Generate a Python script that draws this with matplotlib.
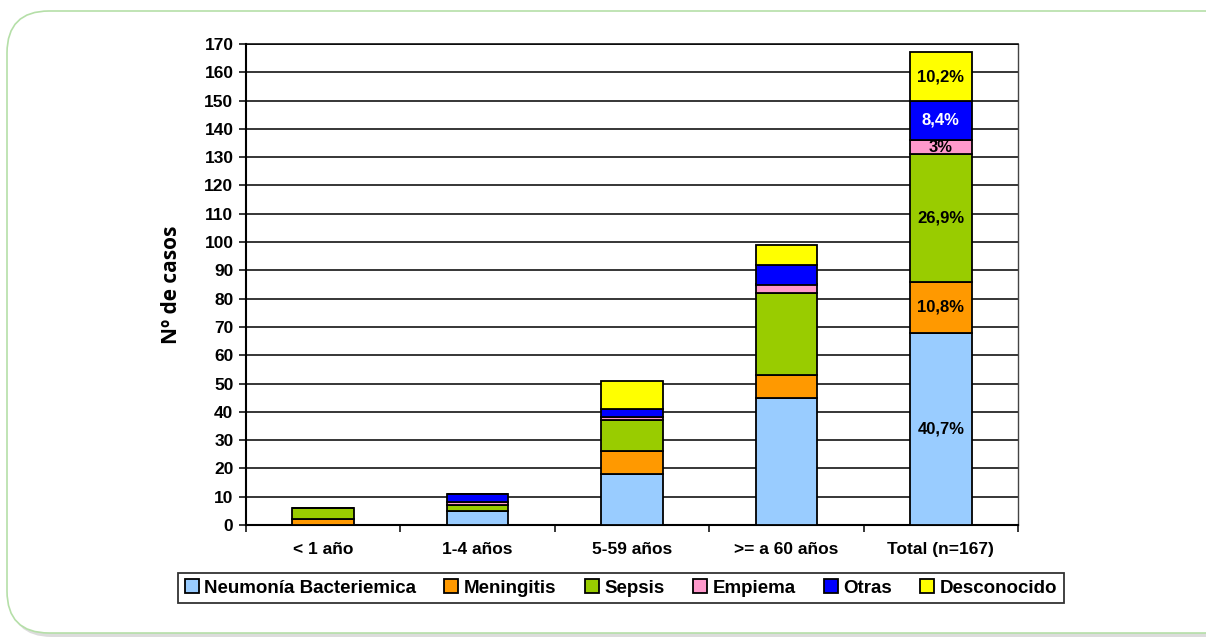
import matplotlib
matplotlib.use("Agg")
import matplotlib.pyplot as plt
from matplotlib.patches import FancyBboxPatch
from matplotlib.transforms import IdentityTransform
import numpy as np

categories = ["< 1 año", "1-4 años", "5-59 años", ">= a 60 años", "Total (n=167)"]
series_names = ["Neumonía Bacteriemica", "Meningitis", "Sepsis", "Empiema", "Otras", "Desconocido"]
neumonia = [0, 5, 18, 45, 68]
meningitis = [2, 0, 8, 8, 18]
sepsis = [4, 2, 11, 29, 45]
empiema = [0, 1, 1, 3, 5]
otras = [0, 3, 3, 7, 14]
desconocido = [0, 0, 10, 7, 17]
total_labels = ["40,7%", "10,8%", "26,9%", "3%", "8,4%", "10,2%"]
colors = ["#99CCFF", "#FF9900", "#99CC00", "#FF99CC", "#0000FF", "#FFFF00"]
label_colors = ["black", "black", "black", "black", "white", "black"]
yticks = list(range(0, 171, 10))

fig = plt.figure(figsize=(12.06, 6.39), dpi=100)
W, H = 1206, 639

# rounded background panel with shadow (pixel coordinates, y from bottom)
shadow = FancyBboxPatch((10, 2), 1240, 618,
                        boxstyle="round,pad=0,rounding_size=42",
                        transform=IdentityTransform(), facecolor="#dcdcdc",
                        edgecolor="none", zorder=0)
fig.patches.append(shadow)
panel = FancyBboxPatch((7, 6), 1240, 622,
                       boxstyle="round,pad=0,rounding_size=42",
                       transform=IdentityTransform(), facecolor="white",
                       edgecolor="#b5dfa8", linewidth=1.2, zorder=1)
fig.patches.append(panel)

ax = fig.add_axes([246 / W, 1 - 525 / H, (1018 - 246) / W, (525 - 44) / H])
ax.set_zorder(3)
ax.set_facecolor("none")
x = np.arange(len(categories))
data = [neumonia, meningitis, sepsis, empiema, otras, desconocido]
bottom = np.zeros(len(categories))
width = 0.4
for i, (vals, c) in enumerate(zip(data, colors)):
    v = np.array(vals, dtype=float)
    ax.bar(x, v, width, bottom=bottom, color=c, edgecolor="black",
           linewidth=1.3, label=series_names[i], zorder=3)
    ax.text(x[-1], bottom[-1] + v[-1] / 2, total_labels[i], ha="center",
            va="center", fontsize=12, fontweight="bold",
            color=label_colors[i], family="Liberation Sans", zorder=4)
    bottom += v

ax.set_xlim(-0.5, len(categories) - 0.5)
ax.set_ylim(0, 170)
ax.set_yticks(yticks)
ax.set_yticklabels([str(t) for t in yticks], fontsize=12.5, fontweight="bold",
                   family="Liberation Sans")
ax.yaxis.grid(True, color="black", linewidth=1.1, zorder=0)
ax.set_axisbelow(True)
ax.tick_params(axis="y", direction="out", length=5, width=1.1, pad=4)

ax.set_xticks(x)
ax.set_xticklabels(categories, fontsize=12.5, fontweight="bold",
                   family="Liberation Sans")
ax.set_xticks(np.arange(-0.5, len(categories), 1.0), minor=True)
ax.tick_params(axis="x", which="major", length=0, pad=12)
ax.tick_params(axis="x", which="minor", direction="out", length=5, width=1.1)

for side in ["left", "bottom"]:
    ax.spines[side].set_linewidth(1.5)
    ax.spines[side].set_color("black")
ax.spines["top"].set_linewidth(1.1)
ax.spines["right"].set_linewidth(1.0)
ax.spines["right"].set_color("#444444")

ax.set_ylabel("Nº de casos", fontsize=15, fontweight="bold",
              family="Open Sans", labelpad=16)

leg = fig.legend(loc="center", bbox_to_anchor=(621 / W, 1 - 588 / H),
                 ncol=6, frameon=True, fancybox=False, edgecolor="black",
                 prop={"family": "Liberation Sans", "weight": "bold", "size": 13.5},
                 handlelength=0.75, handleheight=0.75, handletextpad=0.3,
                 columnspacing=1.5, borderpad=0.35)
leg.get_frame().set_linewidth(1.3)
leg.set_zorder(4)

fig.savefig("out.png", dpi=100)
